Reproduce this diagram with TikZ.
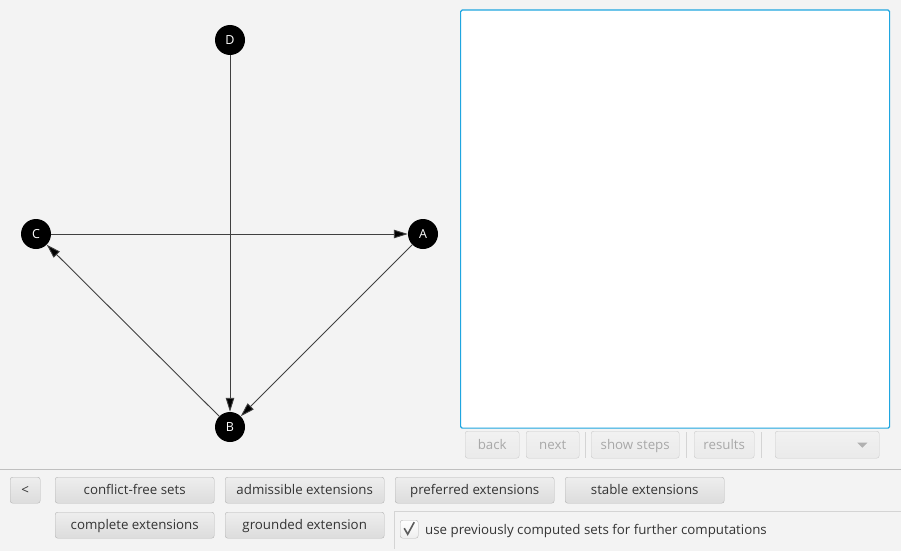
\documentclass[tikz,border=0pt]{standalone}
\usepackage{fontspec}
\setmainfont{Open Sans}
\usetikzlibrary{arrows.meta}
\definecolor{bg}{HTML}{F3F3F3}
\definecolor{panelblue}{HTML}{1FA6E0}
\definecolor{btnborder}{HTML}{B4B4B4}
\definecolor{btntop}{HTML}{EEEEEE}
\definecolor{btnbot}{HTML}{DCDCDC}
\definecolor{txt}{HTML}{333333}
\definecolor{dimtxt}{HTML}{A8A8A8}
\definecolor{sepline}{HTML}{D4D4D4}
\definecolor{edgecol}{HTML}{404040}
\begin{document}
\begin{tikzpicture}[x=1pt,y=-1pt,
  arg/.style={circle,fill=black,minimum size=30pt,inner sep=0pt,text=white,font=\fontsize{12.5}{12.5}\selectfont},
  att/.style={draw=edgecol,line width=0.9pt,-{Stealth[length=14pt,width=8.5pt,inset=0pt,fill=black]}},
  btn/.style={draw=btnborder,rounded corners=2.5pt,top color=btntop,bottom color=btnbot,text=txt,inner sep=0pt,anchor=north west,font=\fontsize{13.3}{15}\selectfont,text height=10.5pt,text depth=1pt},
  dbtn/.style={draw=btnborder!70,rounded corners=2.5pt,top color=btntop!80,bottom color=btnbot!60,text=dimtxt,inner sep=0pt,anchor=north west,font=\fontsize{13.3}{15}\selectfont,text height=10.5pt,text depth=1pt},
  sep/.style={draw=sepline,line width=0.8pt}]
\useasboundingbox (0,0) rectangle (901,551);
\fill[bg] (0,0) rectangle (901,551);
% graph
\node[arg] (D) at (230,40) {D};
\node[arg] (C) at (36,234) {C};
\node[arg] (A) at (423,234) {A};
\node[arg] (B) at (230,427) {B};
\draw[att] (D) -- (B);
\draw[att] (C) -- (A);
\draw[att] (A) -- (B);
\draw[att] (B) -- (C);
% panel
\node[draw=panelblue,line width=1.2pt,fill=white,rounded corners=1.5pt,minimum width=429pt,minimum height=418pt,anchor=north west,inner sep=0pt] (panel) at (460,9.5) {};
% step buttons
\node[dbtn,minimum width=54pt,minimum height=27pt] (back) at (465,431) {back};
\node[dbtn,minimum width=53pt,minimum height=27pt] (next) at (526,431) {next};
\node[dbtn,minimum width=88pt,minimum height=27pt] (steps) at (591,431) {show steps};
\node[dbtn,minimum width=60pt,minimum height=27pt] (results) at (694,431) {results};
\node[dbtn,minimum width=104pt,minimum height=27pt] (combo) at (775,431) {};
\fill[dimtxt!90] ([xshift=-22pt,yshift=2pt]combo.east) -- ++(10pt,0) -- ++(-5pt,-5pt) -- cycle;
\coordinate (s1t) at (585,432); \coordinate (s1b) at (585,458);
\coordinate (s2t) at (686,432); \coordinate (s2b) at (686,458);
\coordinate (s3t) at (761,432); \coordinate (s3b) at (761,458);
\draw[sep] (s1t) -- (s1b);
\draw[sep] (s2t) -- (s2b);
\draw[sep] (s3t) -- (s3b);
% bottom bar
\coordinate (hl) at (0,469); \coordinate (hr) at (901,469);
\draw[sep,draw=sepline!90!black] (hl) -- (hr);
\node[btn,minimum width=30pt,minimum height=26pt] (lt) at (10,477) {<};
\node[btn,minimum width=159pt,minimum height=26pt] (cf) at (55,477) {conflict-free sets};
\node[btn,minimum width=159pt,minimum height=26pt] (adm) at (225,477) {admissible extensions};
\node[btn,minimum width=159pt,minimum height=26pt] (pref) at (395,477) {preferred extensions};
\node[btn,minimum width=159pt,minimum height=26pt] (stab) at (565,477) {stable extensions};
\node[btn,minimum width=159pt,minimum height=26pt] (comp) at (55,512) {complete extensions};
\node[btn,minimum width=159pt,minimum height=26pt] (grd) at (225,512) {grounded extension};
\coordinate (vt) at (394.5,511); \coordinate (vb) at (394.5,549);
\coordinate (h2l) at (395,511); \coordinate (h2r) at (901,511);
\draw[sep] (vt) -- (vb);
\draw[sep] (h2l) -- (h2r);
\node[btn,minimum width=18pt,minimum height=18pt,top color=white,bottom color=btntop,text height=0pt,text depth=0pt] (chk) at (400,520) {};
\draw[txt!80,line width=1.6pt] ([xshift=-5pt,yshift=1pt]chk.center) -- ([xshift=-1.5pt,yshift=-5pt]chk.center) -- ([xshift=5pt,yshift=7pt]chk.center);
\node[anchor=base west,text=txt,inner sep=0pt,font=\fontsize{13.3}{15}\selectfont] (lbl) at (425,534) {use previously computed sets for further computations};
\end{tikzpicture}
\end{document}
